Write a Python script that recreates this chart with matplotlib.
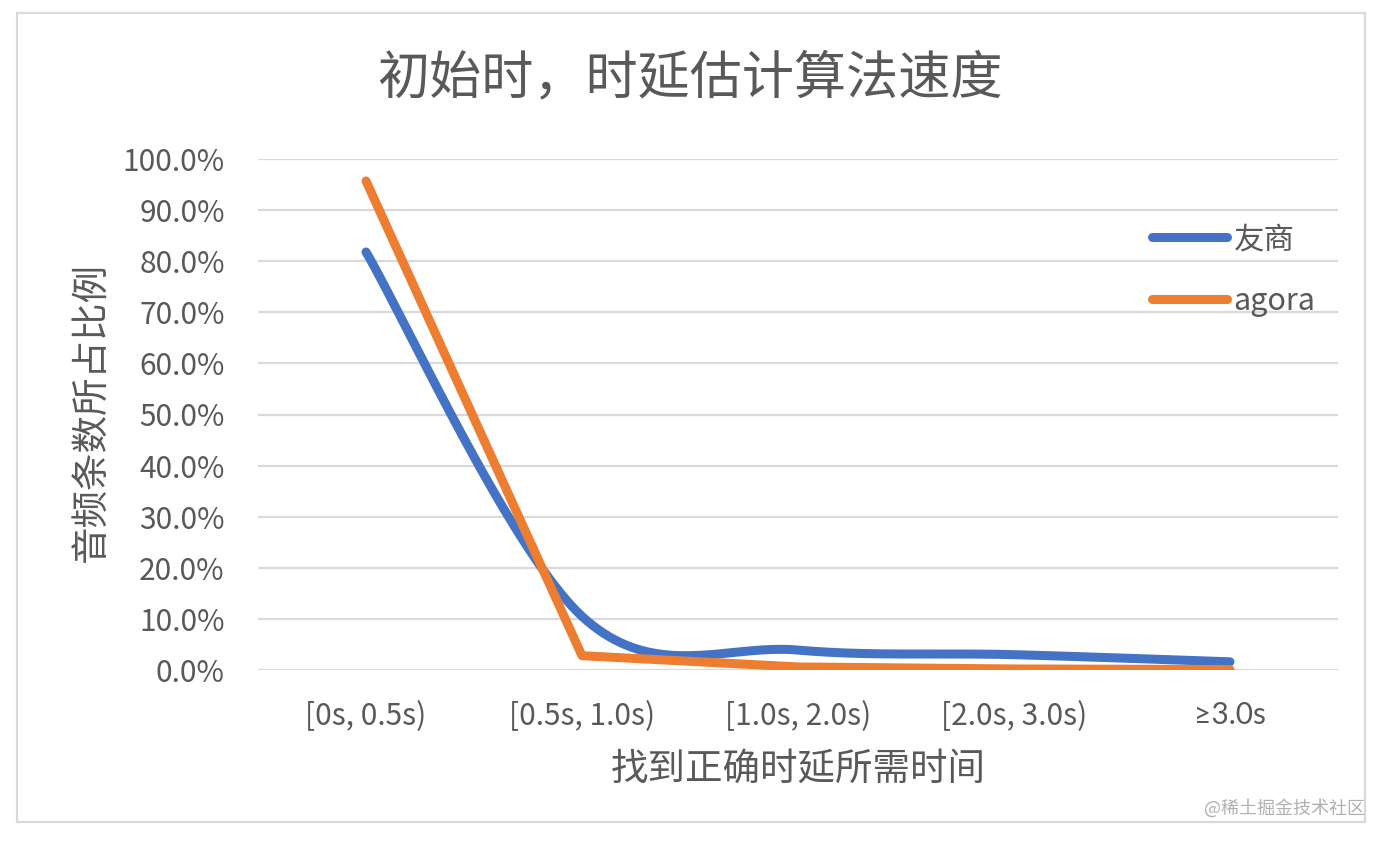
import numpy as np
import matplotlib
matplotlib.use("Agg")
import matplotlib.pyplot as plt
from matplotlib.patches import Rectangle
from matplotlib.ticker import PercentFormatter

plt.rcParams['font.family'] = ['Noto Sans CJK SC', 'DejaVu Sans']

categories = ['[0s, 0.5s)', '[0.5s, 1.0s)', '[1.0s, 2.0s)', '[2.0s, 3.0s)', '≥3.0s']
series_names = ['友商', 'agora']
youshang = [0.818, 0.105, 0.039, 0.030, 0.016]
agora = [0.957, 0.028, 0.006, 0.002, 0.001]

title = '初始时，时延估计算法速度'
xlabel = '找到正确时延所需时间'
ylabel = '音频条数所占比例'
watermark = '@稀土掘金技术社区'

BLUE = '#4472C4'
ORANGE = '#ED7D31'
TEXT = '#595959'
GRID = '#D9D9D9'


def smooth(xs, ys, sx, sy, f=1/6, k=0.5, n=80):
    """Excel-like smoothed line: cubic Bezier through the data points,
    control arms limited relative to the segment length (in pixel space)."""
    pts = np.column_stack([np.asarray(xs, float) * sx, np.asarray(ys, float) * sy])
    m = len(pts)
    out = []
    for i in range(m - 1):
        p0 = pts[max(i - 1, 0)]
        p1 = pts[i]
        p2 = pts[i + 1]
        p3 = pts[min(i + 2, m - 1)]
        seg_len = np.linalg.norm(p2 - p1)
        a1 = (p2 - p0) * f
        a2 = (p3 - p1) * f
        for a in (a1, a2):
            L = np.linalg.norm(a)
            if L > k * seg_len:
                a *= k * seg_len / L
        c1 = p1 + a1
        c2 = p2 - a2
        t = np.linspace(0, 1, n)[:, None]
        seg = ((1 - t) ** 3) * p1 + 3 * ((1 - t) ** 2) * t * c1 + 3 * (1 - t) * t ** 2 * c2 + t ** 3 * p2
        if i > 0:
            seg = seg[1:]
        out.append(seg)
    out = np.vstack(out)
    return out[:, 0] / sx, out[:, 1] / sy


W, H = 1390, 842
fig = plt.figure(figsize=(W / 100, H / 100), dpi=100)
fig.patch.set_facecolor('white')

# outer chart frame
fig.patches.append(Rectangle((17 / W, 1 - 822 / H), (1365 - 17) / W, (822 - 13) / H,
                             transform=fig.transFigure, fill=False,
                             edgecolor=GRID, linewidth=1.6))

left, right = 258 / W, 1338 / W
bottom, top = 1 - 670 / H, 1 - 159 / H
ax = fig.add_axes([left, bottom, right - left, top - bottom])

x = np.arange(len(categories))
ax_w_px = (right - left) * W
ax_h_px = (top - bottom) * H
sx = ax_w_px / len(categories)
sy = ax_h_px / 1.0
bx, by = smooth(x, youshang, sx, sy)
ax.plot(bx, by, color=BLUE, lw=6.5, solid_capstyle='round', solid_joinstyle='round',
        label=series_names[0], zorder=3)
ax.plot(x, agora, color=ORANGE, lw=6.5, solid_capstyle='round', solid_joinstyle='round',
        label=series_names[1], zorder=4)

ax.set_xlim(-0.5, len(categories) - 0.5)
ax.set_ylim(0, 1.0)
ax.set_yticks(np.arange(0, 1.01, 0.1))
ax.yaxis.set_major_formatter(PercentFormatter(1.0, decimals=1))
ax.set_xticks(x)
ax.set_xticklabels(categories)
ax.grid(axis='y', color=GRID, lw=1.6)
ax.set_axisbelow(True)
for s in ax.spines.values():
    s.set_visible(False)
ax.tick_params(axis='both', length=0, colors=TEXT, labelsize=21.5)
ax.tick_params(axis='y', pad=24)
ax.tick_params(axis='x', pad=22)
ax.get_xticklabels()[-1].set_fontfamily(['Lato', 'DejaVu Sans'])

ax.set_xlabel(xlabel, fontsize=27, color=TEXT, labelpad=13)
fig.text(92 / W, 1 - 412 / H, ylabel, rotation=90, fontsize=27, color=TEXT,
         ha='center', va='center')
fig.text(690 / W, 1 - 79 / H, title, fontsize=37.5, color=TEXT, ha='center', va='center')

leg = ax.legend(loc='upper left', bbox_to_anchor=((1152 - 258) / 1080, (670 - 224) / 511),
                frameon=False, fontsize=22, handlelength=2.45, handletextpad=0.22,
                labelspacing=1.0, borderaxespad=0, borderpad=0)
for t in leg.get_texts():
    t.set_color(TEXT)

fig.text(1365 / W, 1 - 808 / H, watermark, fontsize=13, color='#B0B0B0',
         ha='right', va='center')

fig.savefig('out.png', dpi=100, facecolor='white')
